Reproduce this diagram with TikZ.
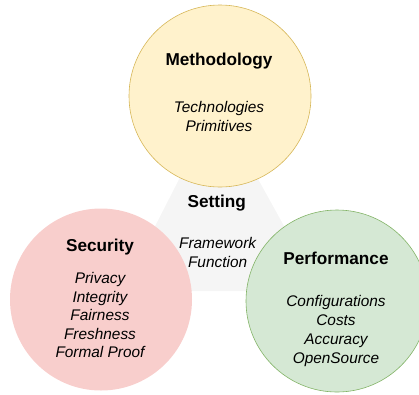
\documentclass[tikz,border=0pt]{standalone}
\usepackage{fontspec}
\setmainfont{Liberation Sans}
\begin{document}
\begin{tikzpicture}[x=1pt,y=-1pt,
  circ/.style={circle,minimum size=182pt,inner sep=0pt,line width=0.6pt},
  ttl/.style={font=\fontsize{17.2}{20}\selectfont\bfseries,inner sep=0pt},
  itm/.style={font=\fontsize{15.4}{19}\selectfont\itshape,align=center,inner sep=0pt}]
\definecolor{yfill}{HTML}{FFF2CC}\definecolor{ydraw}{HTML}{D6B656}
\definecolor{pfill}{HTML}{F8CECC}
\definecolor{gfill}{HTML}{D5E8D4}\definecolor{gdraw}{HTML}{82B366}
\definecolor{tfill}{HTML}{F5F5F5}
\useasboundingbox (0,0) rectangle (419,394);
\clip (0,0) rectangle (419,394);
\coordinate (ta) at (217,105);
\coordinate (tl) at (122,291);
\coordinate (tr) at (320,291);
\fill[tfill] (ta) -- (tl) -- (tr) -- cycle;
\node[circ,fill=yfill,draw=ydraw] (meth) at (220,96) {};
\node[circ,fill=pfill] (sec) at (101,299.5) {};
\node[circ,fill=gfill,draw=gdraw] (perf) at (337,301) {};
\node[ttl] (methT) at (219,60.7) {Methodology};
\node[itm] (methI) at (219,116.5) {Technologies\\Primitives};
\node[ttl] (setT) at (216.7,203) {Setting};
\node[itm] (setI) at (217.6,252.4) {Framework\\Function};
\node[ttl] (secT) at (100,246.7) {Security};
\node[itm,font=\fontsize{15.4}{18.5}\selectfont\itshape] (secI) at (100,315.3) {Privacy\\Integrity\\Fairness\\Freshness\\Formal Proof};
\node[ttl] (perfT) at (336,258.3) {Performance};
\node[itm] (perfI) at (336,331) {Configurations\\Costs\\Accuracy\\OpenSource};
\end{tikzpicture}
\end{document}
